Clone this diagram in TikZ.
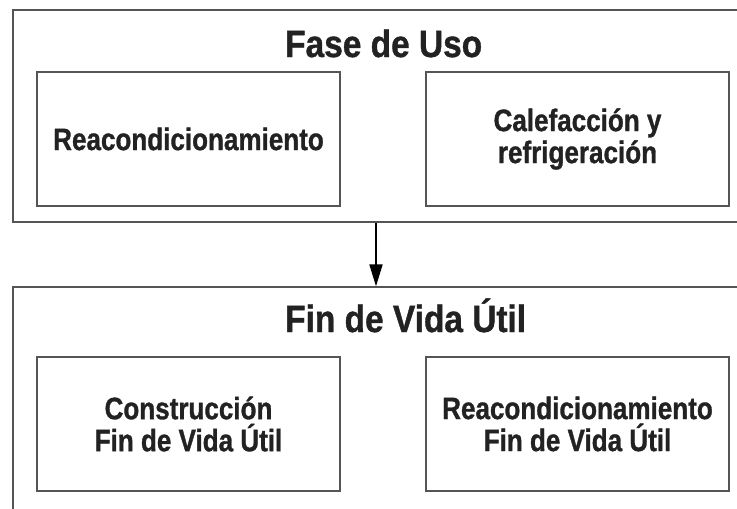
\documentclass[tikz,border=0pt]{standalone}
\usepackage{fontspec}
\newfontfamily\etapafont{Liberation Sans Bold}[FakeStretch=0.84,FakeBold=1]
\newfontfamily\titulofont{Liberation Sans Bold}[FakeStretch=0.88,FakeBold=1]
\usepackage{tikz}
\usetikzlibrary{arrows.meta}
\definecolor{marco}{HTML}{555555}
\definecolor{texto}{HTML}{222222}
\tikzset{faseframe/.style={rectangle,draw=marco,line width=1.3pt,minimum width=740pt,inner sep=0pt}}
\tikzset{etapanode/.style={rectangle,draw=marco,line width=1.3pt,minimum width=303pt,minimum height=134pt,
  align=center,text=texto,font=\etapafont\fontsize{31}{32}\selectfont}}
\tikzset{titulonode/.style={anchor=base west,inner sep=0pt,text=texto,font=\titulofont\fontsize{38}{40}\selectfont}}

\begin{document}
\begin{tikzpicture}[x=1pt,y=-1pt]

\useasboundingbox (0,0) rectangle (737,509);
\clip (0,0) rectangle (737,509);

\begin{scope}

  % nodes
  \node [style = faseframe, minimum height=212pt] (uso) at (383,116) {};
  \node [style = titulonode] (tuso) at (285,57) {Fase de Uso};
  \node [style = etapanode] (reac) at (188.5,139) {Reacondicionamiento};
  \node [style = etapanode] (cale) at (577.5,139) {Calefacción y\\refrigeración};

\end{scope}

\begin{scope}

  % nodes
  \node [style = faseframe, minimum height=240pt] (fin) at (383,407) {};
  \node [style = titulonode] (tfin) at (285,332) {Fin de Vida Útil};
  \node [style = etapanode] (cons) at (188.5,424) {Construcción\\Fin de Vida Útil};
  \node [style = etapanode] (reacfin) at (577.5,424) {Reacondicionamiento\\Fin de Vida Útil};

\end{scope}

%  edges
\coordinate (flecha) at (376,0);
\draw [line width=1.8pt, -{Triangle[length=22pt,width=13pt]}] (uso.south -| flecha) to (fin.north -| flecha);

\end{tikzpicture}
\end{document}
